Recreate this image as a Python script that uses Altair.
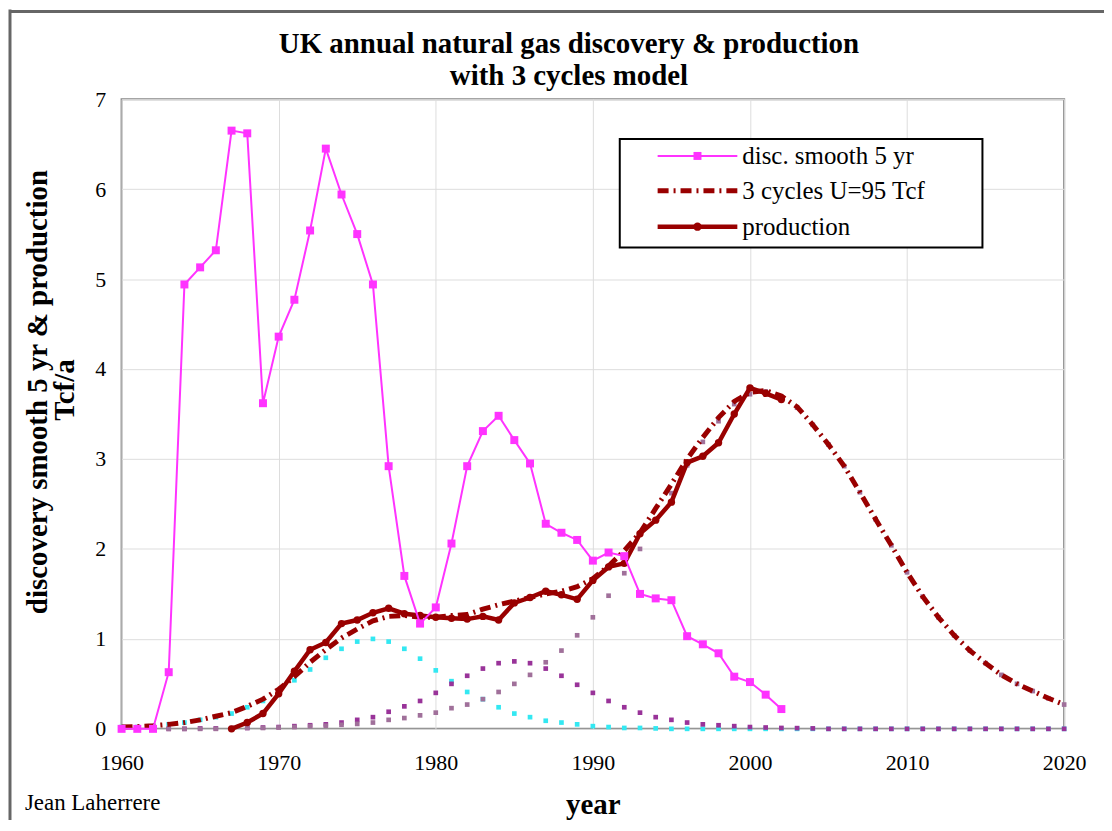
import altair as alt
import pandas as pd

# ---------------- data ----------------
disc_years = list(range(1960, 2003))
disc_vals = [0, 0, 0, 0.63, 4.94, 5.13, 5.32, 6.65, 6.62, 3.62,
             4.36, 4.77, 5.54, 6.45, 5.94, 5.50, 4.94, 2.92, 1.70, 1.17,
             1.35, 2.06, 2.92, 3.31, 3.48, 3.21, 2.95, 2.28, 2.18, 2.10,
             1.87, 1.96, 1.92, 1.50, 1.45, 1.43, 1.03, 0.94, 0.84, 0.58,
             0.52, 0.38, 0.22]

prod_years = list(range(1967, 2003))
prod_vals = [0.0, 0.07, 0.17, 0.39, 0.64, 0.88, 0.96, 1.17, 1.21, 1.29,
             1.34, 1.28, 1.26, 1.24, 1.23, 1.22, 1.25, 1.21, 1.40, 1.46,
             1.53, 1.49, 1.44, 1.65, 1.80, 1.84, 2.17, 2.32, 2.52, 2.96,
             3.03, 3.18, 3.50, 3.79, 3.73, 3.66]

model_years = list(range(1960, 2021))
model_total = [0.02, 0.025, 0.035, 0.05, 0.07, 0.10, 0.14, 0.18, 0.25, 0.33,
               0.44, 0.58, 0.74, 0.88, 1.01, 1.11, 1.20, 1.25, 1.26, 1.24,
               1.24, 1.26, 1.27, 1.33, 1.38, 1.42, 1.46, 1.50, 1.53, 1.58,
               1.67, 1.81, 1.98, 2.18, 2.45, 2.72, 3.00, 3.24, 3.46, 3.64,
               3.74, 3.76, 3.70, 3.58, 3.38, 3.16, 2.92, 2.63, 2.33, 2.04,
               1.74, 1.47, 1.24, 1.04, 0.87, 0.73, 0.60, 0.50, 0.42, 0.34,
               0.27]

cycle1 = [0.02, 0.02, 0.03, 0.05, 0.07, 0.10, 0.13, 0.17, 0.24, 0.31,
          0.41, 0.54, 0.66, 0.79, 0.89, 0.97, 1.00, 0.97, 0.89, 0.78,
          0.65, 0.53, 0.41, 0.33, 0.24, 0.17, 0.13, 0.09, 0.07, 0.05,
          0.03, 0.02, 0.01, 0.01, 0.005, 0, 0, 0, 0, 0,
          0, 0, 0, 0, 0, 0, 0, 0, 0, 0,
          0, 0, 0, 0, 0, 0, 0, 0, 0, 0,
          0]

cycle2 = [0, 0, 0, 0, 0, 0.005, 0.005, 0.008, 0.01, 0.015,
          0.02, 0.03, 0.04, 0.05, 0.07, 0.10, 0.13, 0.19, 0.25, 0.31,
          0.40, 0.50, 0.59, 0.67, 0.73, 0.75, 0.73, 0.67, 0.59, 0.49,
          0.40, 0.31, 0.24, 0.18, 0.13, 0.10, 0.07, 0.05, 0.04, 0.03,
          0.02, 0.015, 0.01, 0.008, 0.005, 0, 0, 0, 0, 0,
          0, 0, 0, 0, 0, 0, 0, 0, 0, 0,
          0]

cycle3 = [0, 0, 0, 0, 0, 0, 0, 0.005, 0.01, 0.01,
          0.015, 0.02, 0.03, 0.035, 0.045, 0.055, 0.07, 0.10, 0.12, 0.15,
          0.18, 0.23, 0.27, 0.33, 0.41, 0.50, 0.60, 0.74, 0.87, 1.04,
          1.24, 1.48, 1.73, 2.00, 2.32, 2.62, 2.93, 3.19, 3.42, 3.61,
          3.72, 3.75, 3.69, 3.57, 3.38, 3.16, 2.92, 2.63, 2.33, 2.04,
          1.74, 1.47, 1.24, 1.04, 0.87, 0.73, 0.60, 0.50, 0.42, 0.34,
          0.27]

S_DISC = "disc. smooth 5 yr"
S_MODEL = "3 cycles U=95 Tcf"
S_PROD = "production"
SERIES = [S_DISC, S_MODEL, S_PROD]

title_lines = ["UK annual natural gas discovery & production", "with 3 cycles model"]
y_title = ["discovery smooth 5 yr & production", "Tcf/a"]
x_title = "year"
author = "Jean Laherrere"

# ---------------- tables ----------------
disc_df = pd.DataFrame({"year": disc_years, "value": disc_vals})
prod_df = pd.DataFrame({"year": prod_years, "value": prod_vals})
model_df = pd.DataFrame({"year": model_years, "value": model_total})
crow = []
for name, vals in (("c1", cycle1), ("c2", cycle2), ("c3", cycle3)):
    for y, v in zip(model_years, vals):
        crow.append({"year": y, "value": v, "cycle": name})
cyc = pd.DataFrame(crow)

W, H = 946, 632
FONT = "Liberation Serif"
MAGENTA = "#FF33FF"
DARKRED = "#990000"
MODEL_DASH = [11, 5, 2, 5]

x_enc = alt.X(
    "year:Q",
    scale=alt.Scale(domain=[1960, 2020], nice=False, zero=False),
    axis=alt.Axis(
        values=list(range(1960, 2021, 10)), format="d", title=x_title,
        titleFont=FONT, titleFontSize=29, titleFontWeight="bold", titleColor="black",
        titleBaseline="alphabetic", titleY=85,
        labelFont=FONT, labelFontSize=22, labelColor="black", labelPadding=24,
        labelFlush=False, ticks=False, domain=False,
        grid=True, gridColor="#DDDDDD", gridWidth=1,
    ),
)
y_enc = alt.Y(
    "value:Q",
    scale=alt.Scale(domain=[0, 7], nice=False),
    axis=alt.Axis(
        values=list(range(0, 8)), title=None,
        labelFont=FONT, labelFontSize=22, labelColor="black", labelPadding=16,
        ticks=False, domain=False,
        grid=True, gridColor="#DDDDDD", gridWidth=1,
    ),
)

cyc_pts = alt.Chart(cyc).mark_square(size=22, opacity=1).encode(
    x=x_enc, y=y_enc,
    color=alt.Color("cycle:N", scale=alt.Scale(domain=["c1", "c2", "c3"],
                                              range=["#33E8F2", "#993399", "#A0709A"]), legend=None),
)

model_line = alt.Chart(model_df).mark_line(
    color=DARKRED, strokeWidth=5, strokeDash=MODEL_DASH).encode(x=x_enc, y=y_enc)
prod_line = alt.Chart(prod_df).mark_line(color=DARKRED, strokeWidth=4.5).encode(x=x_enc, y=y_enc)
prod_pts = alt.Chart(prod_df).mark_circle(size=55, color=DARKRED, opacity=1).encode(x=x_enc, y=y_enc)
disc_line = alt.Chart(disc_df).mark_line(color=MAGENTA, strokeWidth=2).encode(x=x_enc, y=y_enc)
disc_pts = alt.Chart(disc_df).mark_square(size=64, color=MAGENTA, opacity=1).encode(x=x_enc, y=y_enc)

one = alt.Data(values=[{}])

def txt(text, x, y, size, weight="normal", align="center", baseline="alphabetic", angle=0):
    kw = dict(font=FONT, fontSize=size, fontWeight=weight, align=align,
              baseline=baseline, color="black")
    if angle:
        kw["angle"] = angle
    return alt.Chart(one).mark_text(**kw).encode(
        x=alt.value(x), y=alt.value(y), text=alt.value(text))

# titles
title1 = txt(title_lines[0], 449, -46, 29, "bold")
title2 = txt(title_lines[1], 449, -14, 29, "bold")
ytitle1 = txt(y_title[0], -84, 294, 29, "bold", baseline="middle", angle=270)
ytitle2 = txt(y_title[1], -57, 292, 29, "bold", baseline="middle", angle=270)
author_txt = txt(author, -97, 713, 23, align="left")

# legend (box, symbols, labels)
LX0, LX1, LY0, LY1 = 500, 864, 40, 149
rows_y = [57, 92, 128]
SX0, SX1, SXM, TX = 538, 618, 578, 623
leg_box = alt.Chart(one).mark_rect(fill="white", stroke="black", strokeWidth=2).encode(
    x=alt.value(LX0), x2=alt.value(LX1), y=alt.value(LY0), y2=alt.value(LY1))
leg_disc = alt.Chart(one).mark_rule(color=MAGENTA, strokeWidth=2).encode(
    x=alt.value(SX0), x2=alt.value(SX1), y=alt.value(rows_y[0]))
leg_disc_pt = alt.Chart(one).mark_square(size=64, color=MAGENTA, opacity=1).encode(
    x=alt.value(SXM), y=alt.value(rows_y[0]))
leg_model = alt.Chart(one).mark_rule(color=DARKRED, strokeWidth=5, strokeDash=MODEL_DASH).encode(
    x=alt.value(SX0), x2=alt.value(SX1), y=alt.value(rows_y[1]))
leg_prod = alt.Chart(one).mark_rule(color=DARKRED, strokeWidth=4.5).encode(
    x=alt.value(SX0), x2=alt.value(SX1), y=alt.value(rows_y[2]))
leg_prod_pt = alt.Chart(one).mark_circle(size=70, color=DARKRED, opacity=1).encode(
    x=alt.value(SXM), y=alt.value(rows_y[2]))
leg_labels = [txt(s, TX, ry, 25, align="left", baseline="middle") for s, ry in zip(SERIES, rows_y)]

frame_left = alt.Chart(one).mark_rule(color="#666666", strokeWidth=3).encode(
    x=alt.value(-112), y=alt.value(-90), y2=alt.value(H + 92))
frame_top = alt.Chart(one).mark_rule(color="#666666", strokeWidth=3).encode(
    x=alt.value(-112), x2=alt.value(W + 40), y=alt.value(-88))

chart = alt.layer(
    cyc_pts, model_line, prod_line, prod_pts, disc_line, disc_pts,
    leg_box, leg_disc, leg_disc_pt, leg_model, leg_prod, leg_prod_pt, *leg_labels,
    title1, title2, ytitle1, ytitle2, author_txt, frame_left, frame_top,
).resolve_scale(color="independent").properties(
    width=W, height=H,
    padding={"left": 114, "top": 90, "right": 40, "bottom": 90},
    autosize=alt.AutoSizeParams(type="none"),
    background="white",
).configure_view(stroke="#888888", strokeWidth=2)

chart.save("out.html", embed_options={"renderer": "svg", "actions": False})
